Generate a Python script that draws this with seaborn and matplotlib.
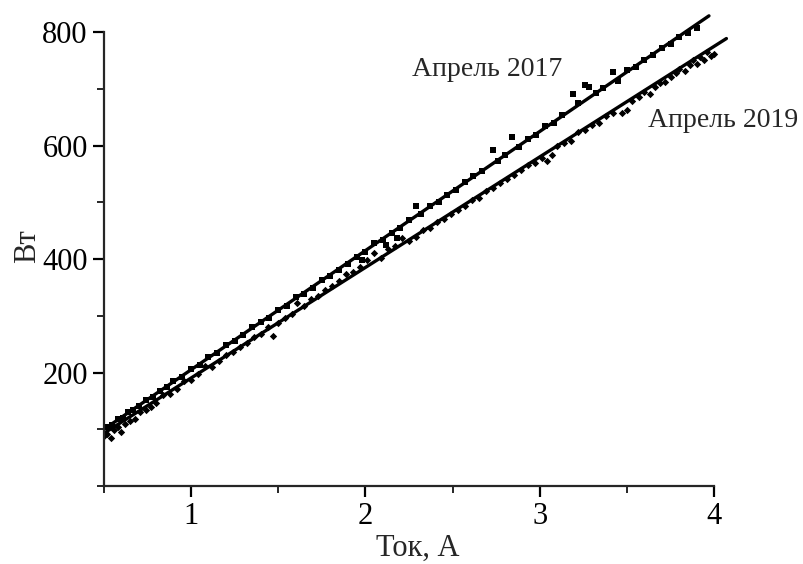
import pandas as pd
import seaborn as sns
import matplotlib.pyplot as plt
from matplotlib.ticker import MultipleLocator

# April 2017 measurements (squares)
x_2017 = [0.52, 0.55, 0.58, 0.61, 0.64, 0.67, 0.70, 0.74, 0.78, 0.82, 0.86, 0.90,
          0.95, 1.00, 1.05, 1.10, 1.15, 1.20, 1.25, 1.30, 1.35, 1.40, 1.45, 1.50,
          1.55, 1.60, 1.65, 1.70, 1.75, 1.80, 1.85, 1.90, 1.95, 1.98, 2.00, 2.05,
          2.10, 2.12, 2.15, 2.18, 2.20, 2.25, 2.29, 2.32, 2.37, 2.42, 2.47, 2.52,
          2.57, 2.62, 2.67, 2.73, 2.76, 2.80, 2.84, 2.88, 2.93, 2.98, 3.03, 3.08,
          3.13, 3.19, 3.22, 3.26, 3.28, 3.32, 3.36, 3.42, 3.45, 3.50, 3.55, 3.60,
          3.65, 3.70, 3.75, 3.80, 3.85, 3.90]
y_2017 = [104, 108, 118, 121, 131, 134, 141, 152, 157, 168, 174, 186,
          193, 206, 213, 228, 234, 249, 256, 266, 281, 289, 297, 311,
          318, 333, 339, 350, 364, 371, 381, 392, 404, 398, 412, 428,
          434, 425, 447, 438, 455, 469, 493, 480, 494, 501, 514, 522,
          537, 546, 556, 592, 574, 583, 615, 597, 612, 619, 634, 641,
          654, 691, 675, 707, 703, 693, 702, 730, 714, 733, 739, 752,
          760, 772, 779, 791, 798, 808]

# April 2019 measurements (diamonds)
x_2019 = [0.50, 0.52, 0.54, 0.56, 0.58, 0.60, 0.62, 0.65, 0.68, 0.71, 0.74, 0.77,
          0.80, 0.84, 0.88, 0.92, 0.96, 1.00, 1.04, 1.08, 1.12, 1.16, 1.20, 1.24,
          1.28, 1.32, 1.36, 1.40, 1.44, 1.47, 1.50, 1.54, 1.58, 1.61, 1.65, 1.69,
          1.73, 1.77, 1.81, 1.85, 1.89, 1.93, 1.97, 2.01, 2.05, 2.09, 2.13, 2.17,
          2.21, 2.25, 2.29, 2.33, 2.37, 2.41, 2.45, 2.49, 2.53, 2.57, 2.61, 2.65,
          2.69, 2.73, 2.77, 2.81, 2.85, 2.89, 2.93, 2.97, 3.01, 3.04, 3.07, 3.10,
          3.14, 3.18, 3.22, 3.26, 3.30, 3.34, 3.38, 3.42, 3.47, 3.50, 3.53, 3.57,
          3.60, 3.63, 3.66, 3.69, 3.72, 3.75, 3.78, 3.80, 3.83, 3.86, 3.88, 3.90,
          3.92, 3.94, 3.96, 3.98, 4.00]
y_2019 = [88, 92, 85, 99, 104, 96, 110, 114, 119, 130, 134, 140,
          147, 160, 163, 172, 185, 188, 197, 212, 210, 221, 232, 236,
          246, 252, 263, 268, 281, 264, 288, 296, 304, 322, 318, 330,
          335, 346, 352, 362, 374, 378, 387, 398, 411, 402, 418, 423,
          438, 433, 440, 452, 455, 466, 471, 480, 486, 493, 505, 508,
          521, 526, 535, 541, 548, 557, 566, 570, 579, 574, 583, 599,
          604, 608, 624, 628, 637, 641, 653, 658, 657, 663, 679, 686,
          694, 692, 703, 710, 712, 721, 728, 735, 731, 742, 751, 745,
          757, 752, 765, 758, 762]

# fitted lines (end points)
fit_x_2017 = [0.5, 3.97]
fit_y_2017 = [100, 829]
fit_x_2019 = [0.5, 4.07]
fit_y_2019 = [93, 789]

sns.set_style("ticks")
plt.rcParams['font.family'] = ['Liberation Serif', 'DejaVu Serif']

fig = plt.figure(figsize=(8.04, 5.64), dpi=100)
ax = fig.add_axes([0.129, 0.138, 0.781, 0.85])

sns.scatterplot(x=x_2017, y=y_2017, marker='s', s=18, color='black',
                linewidth=0, ax=ax)
sns.scatterplot(x=x_2019, y=y_2019, marker='D', s=14, color='black',
                linewidth=0, ax=ax)
sns.lineplot(x=fit_x_2017, y=fit_y_2017, color='black', linewidth=2.4, ax=ax)
sns.lineplot(x=fit_x_2019, y=fit_y_2019, color='black', linewidth=2.4, ax=ax)

ax.text(2.265, 735, 'Апрель 2017', fontsize=20, va='center', ha='left')
ax.text(3.62, 645, 'Апрель 2019', fontsize=20, va='center', ha='left')

ax.set_xlim(0.5, 4.1)
ax.set_ylim(0, 845)
ax.xaxis.set_minor_locator(MultipleLocator(0.5))
ax.yaxis.set_minor_locator(MultipleLocator(100))
ax.set_xticks([1, 2, 3, 4])
ax.set_yticks([200, 400, 600, 800])

for side in ['top', 'right']:
    ax.spines[side].set_visible(False)
ax.spines['left'].set_bounds(0, 800)
ax.spines['bottom'].set_bounds(0.5, 4)
ax.spines['left'].set_linewidth(1.6)
ax.spines['bottom'].set_linewidth(1.6)

ax.tick_params(which='major', direction='out', length=8, width=1.6,
               labelsize=22, colors='black')
ax.tick_params(which='minor', direction='out', length=5, width=1.4)

ax.set_xlabel('Ток, А', fontsize=22, labelpad=2)
ax.set_ylabel('Вт', fontsize=22, labelpad=0)

fig.savefig('out.png', dpi=100)
